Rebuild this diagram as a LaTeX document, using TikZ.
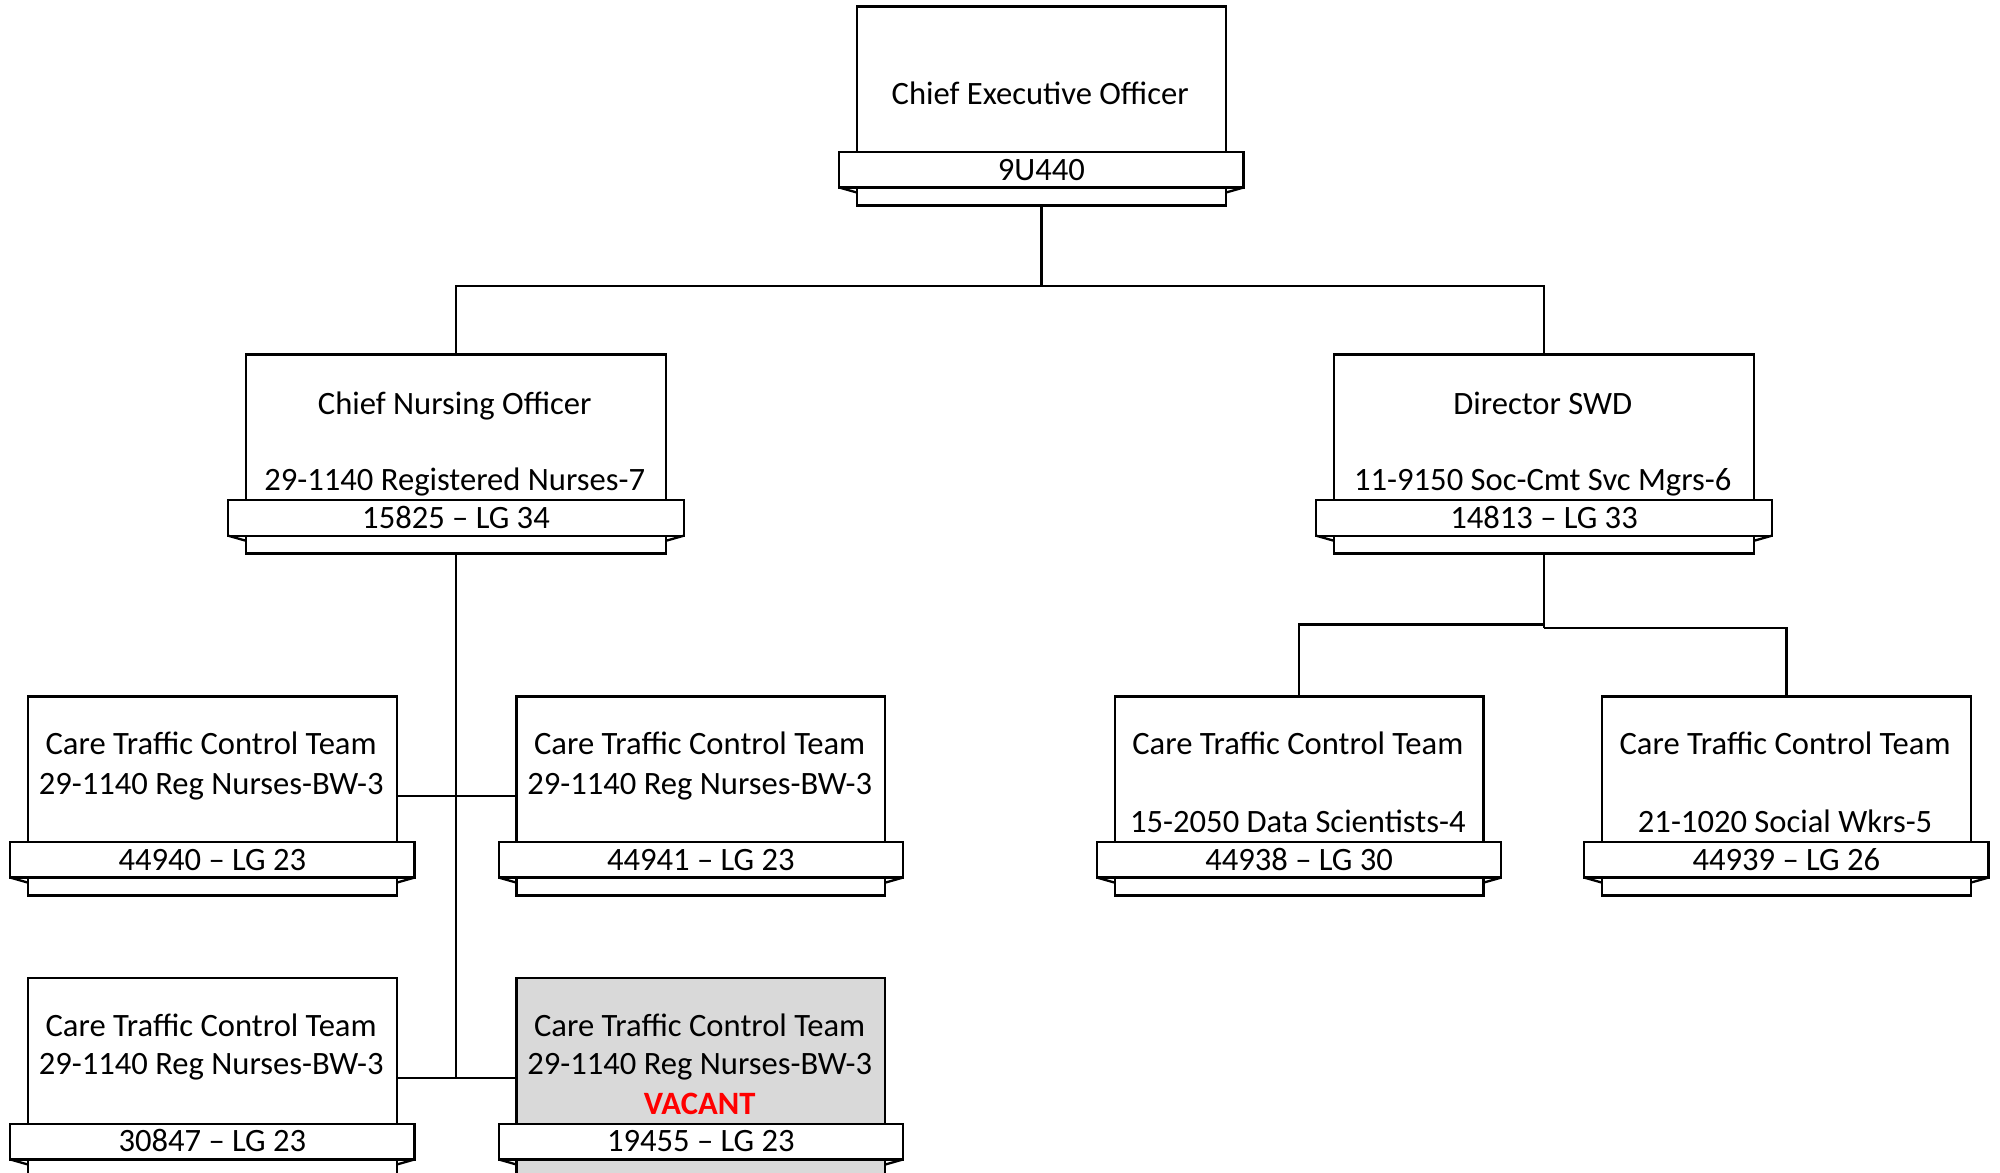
\documentclass[tikz,border=0pt]{standalone}
\usepackage{fontspec}
\setmainfont{Carlito}
\usetikzlibrary{calc}
\definecolor{vacgray}{HTML}{D9D9D9}
\definecolor{vacred}{HTML}{FF0000}
\tikzset{
 bodybox/.style={draw=black, line width=1.15pt, inner sep=0pt, outer sep=0pt, minimum height=99.49pt, anchor=north},
 ribbonbox/.style={draw=black, line width=1.15pt, fill=white, inner sep=0pt, outer sep=0pt, minimum height=17.86pt, text height=10.4pt, text depth=0pt, anchor=north, font=\fontsize{16.3}{19}\selectfont},
 lbl/.style={inner sep=0pt, text height=10.4pt, text depth=0pt, font=\fontsize{16.3}{19}\selectfont},
 link/.style={draw=black, line width=1.15pt},
 fold/.style={draw=black, line width=1.15pt}
}
\newcommand\orgbox[7]{% name, cx, top, body width, ribbon width, fill, ribbon text
  \node[bodybox, fill=#6, minimum width=#4] (#1) at (#2,#3) {};
  \node[ribbonbox, minimum width=#5] (#1r) at ($(#1.north)+(0,114)$) {#7};
  \draw[fold] (#1r.south west) -- ++(14,4);
  \draw[fold] (#1r.south east) -- ++(-14,4);
}
\begin{document}
\begin{tikzpicture}[x=0.63776pt, y=-0.63776pt]
\useasboundingbox (0,0) rectangle (1568,919.6);
% boxes
\orgbox{ceo}{816.5}{5}{184.31pt}{202.17pt}{white}{9U440}
\orgbox{cno}{357.5}{278}{209.82pt}{227.68pt}{white}{15825 – LG 34}
\orgbox{dir}{1210.5}{278}{209.82pt}{227.68pt}{white}{14813 – LG 33}
\orgbox{ta}{166.5}{546}{184.31pt}{202.17pt}{white}{44940 – LG 23}
\orgbox{tb}{549.5}{546}{184.31pt}{202.17pt}{white}{44941 – LG 23}
\orgbox{te}{1018.5}{546}{184.31pt}{202.17pt}{white}{44938 – LG 30}
\orgbox{tf}{1400.5}{546}{184.31pt}{202.17pt}{white}{44939 – LG 26}
\orgbox{tc}{166.5}{767}{184.31pt}{202.17pt}{white}{30847 – LG 23}
\orgbox{td}{549.5}{767}{184.31pt}{202.17pt}{vacgray}{19455 – LG 23}
% texts
\node[lbl] (ceo1) at (815.5,73.5) {Chief Executive Officer};
\node[lbl] (cno1) at (356.5,316.5) {Chief Nursing Officer};
\node[lbl] (cno2) at (356.5,376.5) {29-1140 Registered Nurses-7};
\node[lbl] (dir1) at (1209.5,316.5) {Director SWD};
\node[lbl] (dir2) at (1209.5,376.5) {11-9150 Soc-Cmt Svc Mgrs-6};
\node[lbl] (ta1) at (165.5,583.5) {Care Traffic Control Team};
\node[lbl] (ta2) at (165.5,614.5) {29-1140 Reg Nurses-BW-3};
\node[lbl] (tb1) at (548.5,583.5) {Care Traffic Control Team};
\node[lbl] (tb2) at (548.5,614.5) {29-1140 Reg Nurses-BW-3};
\node[lbl] (te1) at (1017.5,583.5) {Care Traffic Control Team};
\node[lbl] (te2) at (1017.5,644.5) {15-2050 Data Scientists-4};
\node[lbl] (tf1) at (1399.5,583.5) {Care Traffic Control Team};
\node[lbl] (tf2) at (1399.5,644.5) {21-1020 Social Wkrs-5};
\node[lbl] (tc1) at (165.5,804.5) {Care Traffic Control Team};
\node[lbl] (tc2) at (165.5,834.5) {29-1140 Reg Nurses-BW-3};
\node[lbl] (td1) at (548.5,804.5) {Care Traffic Control Team};
\node[lbl] (td2) at (548.5,834.5) {29-1140 Reg Nurses-BW-3};
\node[lbl, text=vacred, font=\fontsize{16.3}{19}\selectfont\bfseries] (td3) at (548.5,865.5) {VACANT};
% connectors
\coordinate (j1) at (816.5,224);
\draw[link] (ceo.south) -- (j1);
\draw[link] (cno.north) |- (j1) -| (dir.north);
\draw[link] (cno.south) -- (cno.south |- tc.east);
\draw[link] (ta.east) -- (tb.west);
\draw[link] (tc.east) -- (td.west);
\coordinate (j4) at (1210.5,489.5);
\coordinate (j5) at (1210.5,492.5);
\draw[link] (dir.south) -- (j5);
\draw[link] (j4) -| (te.north);
\draw[link] (j5) -| (tf.north);
\end{tikzpicture}
\end{document}
